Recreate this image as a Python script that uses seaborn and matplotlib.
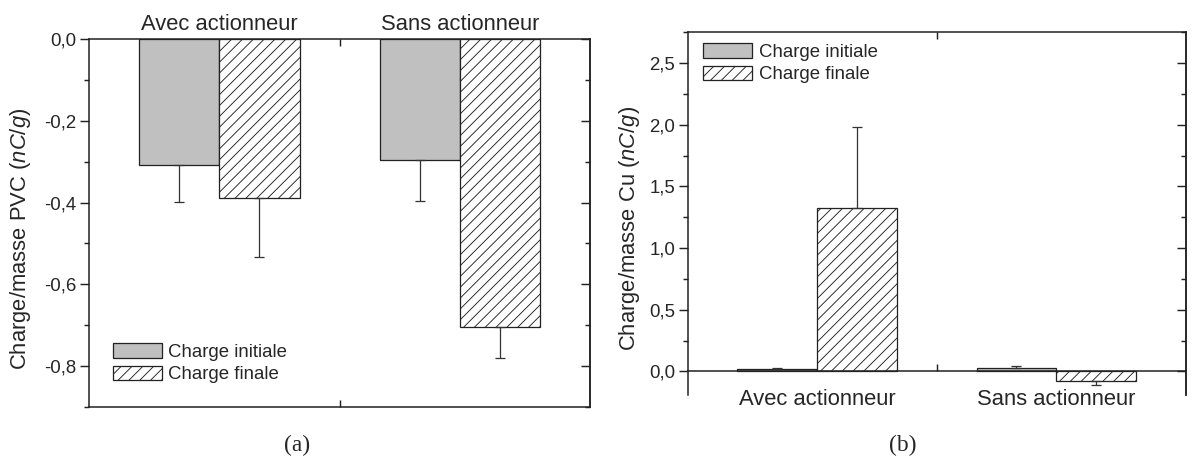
import numpy as np
import pandas as pd
import matplotlib
matplotlib.use("Agg")
import matplotlib.pyplot as plt
from matplotlib.patches import Patch
from matplotlib.ticker import FixedLocator, FuncFormatter
import seaborn as sns

# ---- data -------------------------------------------------------------
conditions = ["Avec actionneur", "Sans actionneur"]
charge_levels = ["Charge initiale", "Charge finale"]

# (a) charge/mass of PVC particles, nC/g
pvc_initiale = [-0.307, -0.295]
pvc_initiale_err = [0.092, 0.100]
pvc_finale = [-0.389, -0.705]
pvc_finale_err = [0.145, 0.075]

# (b) charge/mass of Cu particles, nC/g
cu_initiale = [0.022, 0.026]
cu_initiale_err = [0.005, 0.015]
cu_finale = [1.328, -0.080]
cu_finale_err = [0.656, 0.032]

panel_tags = ["(a)", "(b)"]
ylabels = [r"Charge/masse PVC ($\mathit{nC/g}$)", r"Charge/masse Cu ($\mathit{nC/g}$)"]

# ---- style ------------------------------------------------------------
DPI = 130
sns.set_style("ticks")
plt.rcParams["font.family"] = ["Liberation Sans", "DejaVu Sans"]
plt.rcParams["mathtext.fontset"] = "custom"
plt.rcParams["mathtext.rm"] = "Liberation Sans"
plt.rcParams["mathtext.it"] = "Liberation Sans:italic"
plt.rcParams["hatch.linewidth"] = 0.5
plt.rcParams["hatch.color"] = "#222222"

GREY = "#c0c0c0"
EDGE = "#222222"
HATCH = "////"
TICK_FS = 10.3
CAT_FS = 12.2
LAB_FS = 12.2
LEG_FS = 10.3

fig = plt.figure(figsize=(1195 / DPI, 458 / DPI), dpi=DPI)
ax_a = fig.add_axes([89.3 / 1195, 51 / 458, 500.7 / 1195, 368 / 458])
ax_b = fig.add_axes([687.7 / 1195, 63 / 458, 498 / 1195, 363.3 / 458])


def comma(v, pos):
    if abs(v) < 1e-9:
        v = 0.0
    return f"{v:.1f}".replace(".", ",")


def draw_panel(ax, init, init_err, fin, fin_err):
    df = pd.DataFrame({
        "condition": conditions * 2,
        "charge": [charge_levels[0]] * 2 + [charge_levels[1]] * 2,
        "value": list(init) + list(fin),
    })
    sns.barplot(data=df, x="condition", y="value", hue="charge",
                order=conditions, hue_order=charge_levels,
                palette={charge_levels[0]: GREY, charge_levels[1]: "white"},
                width=0.667, errorbar=None, edgecolor=EDGE, linewidth=0.7,
                saturation=1, legend=False, ax=ax)
    errs = [init_err, fin_err]
    vals = [init, fin]
    bar_groups = list(ax.containers)[:2]
    for k, cont in enumerate(bar_groups):
        xs, ys, lo, hi = [], [], [], []
        for j, bar in enumerate(cont):
            if k == 1:
                bar.set_hatch(HATCH)
            xs.append(bar.get_x() + bar.get_width() / 2)
            v = vals[k][j]
            e = errs[k][j]
            ys.append(v)
            # one-sided error bar pointing away from zero
            lo.append(e if v < 0 else 0)
            hi.append(e if v >= 0 else 0)
        ax.errorbar(xs, ys, yerr=[lo, hi], fmt="none", ecolor="#333333",
                    elinewidth=0.7, capsize=2.5, capthick=0.7, zorder=1)
    ax.set_xlim(-0.54, 1.54)
    ax.set_xlabel("")
    ax.set_xticks([0.5], minor=True)
    ax.tick_params(axis="x", which="major", length=0, labelsize=CAT_FS)
    ax.tick_params(axis="x", which="minor", direction="in", length=4,
                   width=0.8, top=True, bottom=True, color="#222222")
    ax.yaxis.set_major_formatter(FuncFormatter(comma))
    ax.tick_params(axis="y", which="major", direction="out", length=5,
                   width=0.8, labelsize=TICK_FS, pad=2, right=False,
                   color="#222222")
    ax.tick_params(axis="y", which="minor", direction="out", length=2.8,
                   width=0.8, right=False, color="#222222")
    for s in ax.spines.values():
        s.set_visible(True)
        s.set_linewidth(0.85)
        s.set_color("#222222")


# ---- panel (a) --------------------------------------------------------
draw_panel(ax_a, pvc_initiale, pvc_initiale_err, pvc_finale, pvc_finale_err)
ax_a.set_ylim(-0.9, 0.0)
ax_a.yaxis.set_major_locator(FixedLocator(np.arange(-0.8, 0.01, 0.2)))
ax_a.yaxis.set_minor_locator(FixedLocator(np.arange(-0.9, 0.01, 0.1)))
ax_a.tick_params(axis="x", which="major", labeltop=True, labelbottom=False,
                 top=True, bottom=False, pad=2)

# ---- panel (b) --------------------------------------------------------
draw_panel(ax_b, cu_initiale, cu_initiale_err, cu_finale, cu_finale_err)
ax_b.set_ylim(-0.192, 2.755)
ax_b.yaxis.set_major_locator(FixedLocator(np.arange(0, 2.51, 0.5)))
ax_b.yaxis.set_minor_locator(FixedLocator(np.arange(0, 2.76, 0.25)))
ax_b.spines["bottom"].set_position(("data", 0.0))
ax_b.tick_params(axis="x", which="major", pad=10)

# inward ticks along the right-hand frame of both panels
for ax in (ax_a, ax_b):
    sec = ax.secondary_yaxis("right")
    sec.yaxis.set_major_locator(FixedLocator(ax.yaxis.get_majorticklocs()))
    sec.yaxis.set_minor_locator(FixedLocator(ax.yaxis.get_minorticklocs()))
    sec.tick_params(which="major", direction="in", length=5, width=0.8,
                    labelright=False, color="#222222")
    sec.tick_params(which="minor", direction="in", length=2.8, width=0.8,
                    color="#222222")
    sec.spines["right"].set_linewidth(0.85)
    sec.spines["right"].set_color("#222222")

# ---- labels -----------------------------------------------------------
ax_a.set_ylabel(ylabels[0], fontsize=LAB_FS)
ax_a.yaxis.set_label_coords(-0.112, 0.458)
ax_b.set_ylabel(ylabels[1], fontsize=LAB_FS)
ax_b.yaxis.set_label_coords(-0.092, 0.458)

handles = [Patch(facecolor=GREY, edgecolor=EDGE, linewidth=0.7),
           Patch(facecolor="white", edgecolor=EDGE, linewidth=0.7, hatch=HATCH)]
leg_kw = dict(frameon=False, fontsize=LEG_FS, handlelength=2.63,
              handleheight=0.86, handletextpad=0.35, labelspacing=0.27,
              borderpad=0, borderaxespad=0, loc="upper left")
ax_a.legend(handles, charge_levels, bbox_to_anchor=(0.0467, 0.175), **leg_kw)
ax_b.legend(handles, charge_levels, bbox_to_anchor=(0.0317, 0.97), **leg_kw)

fig.text(297 / 1195, 1 - 445 / 458, panel_tags[0], ha="center", va="center",
         fontsize=13, family=["Liberation Serif", "DejaVu Serif"])
fig.text(902.5 / 1195, 1 - 445 / 458, panel_tags[1], ha="center", va="center",
         fontsize=13, family=["Liberation Serif", "DejaVu Serif"])

fig.savefig("out.png", dpi=DPI)
